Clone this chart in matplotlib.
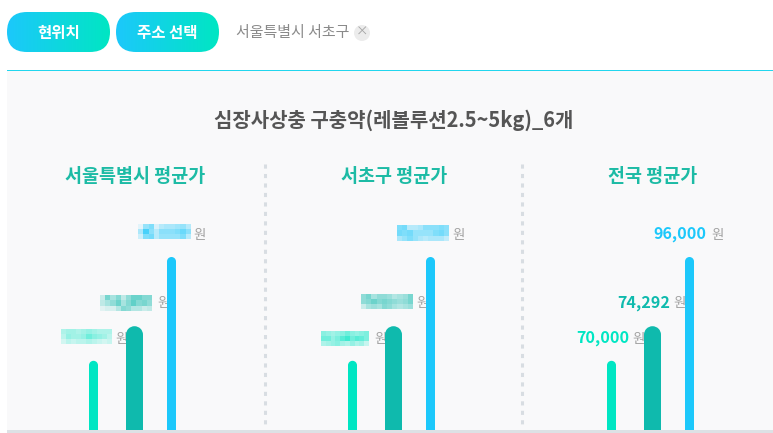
import numpy as np
import matplotlib
matplotlib.use("Agg")
import matplotlib.pyplot as plt
from matplotlib.patches import Ellipse, FancyBboxPatch, Rectangle, Circle

plt.rcParams['font.family'] = ['Noto Sans CJK KR', 'DejaVu Sans']

# bars are drawn at 40/60/100 percent of the tallest one in every panel
panel_titles = ["서울특별시 평균가", "서초구 평균가", "전국 평균가"]
bar_percent = [40, 60, 100]
national_labels = ["70,000", "74,292", "96,000"]
unit = "원"

# pixelated (hidden) prices: opacity of each block
seoul_mint = [[.30, .35, .35, .30, .35, .40, .35, .30, .30, .30],
              [.25, .40, .35, .35, .40, .55, .45, .40, .35, .25],
              [.15, .25, .20, .25, .25, .30, .25, .20, .15, .20]]
seoul_teal = [[.20, .55, .35, .50, .25, .45, .60, .60, .50, .50],
              [.25, .35, .45, .60, .35, .50, .65, .50, .55, .45],
              [.10, .15, .15, .30, .50, .45, .30, .30, .20, .25]]
seoul_cyan = [[.10, .45, .55, .15, .30, .35, .35, .40, .45, .30],
              [.35, .80, .50, .30, .50, .50, .50, .55, .65, .50],
              [.20, .55, .60, .30, .45, .45, .45, .45, .55, .30]]
seocho_mint = [[.45, .40, .35, .40, .45, .55, .45, .40, .45, .50],
               [.55, .55, .40, .50, .65, .75, .55, .65, .60, .50],
               [.30, .35, .40, .45, .35, .30, .40, .30, .35, .20]]
seocho_teal = [[.45, .55, .35, .45, .45, .40, .30, .35, .40, .55],
               [.45, .50, .60, .50, .55, .50, .45, .40, .45, .55],
               [.20, .35, .40, .35, .50, .45, .35, .30, .35, .40]]
seocho_cyan = [[.55, .60, .30, .30, .35, .50, .50, .50, .55, .50],
               [.60, .55, .60, .45, .45, .45, .45, .55, .60, .50],
               [.35, .45, .55, .45, .35, .30, .35, .35, .35, .25]]

mint = "#00e6c3"
teal = "#0fbaad"
cyan = "#1cc8fb"
bar_colors = [mint, teal, cyan]
bar_widths = [9, 17, 9]
bar_x = [93.5, 134.5, 171.5]
panel_left = [0, 259, 518]

fig = plt.figure(figsize=(7.73, 4.33), dpi=100, facecolor="white")
bg = fig.add_axes([0, 0, 1, 1])
bg.set_xlim(0, 773)
bg.set_ylim(433, 0)
bg.axis("off")


def gradient_button(x, y, w, h, label):
    grad = np.linspace(0, 1, 200).reshape(1, -1)
    c0 = np.array(matplotlib.colors.to_rgb(cyan))
    c1 = np.array(matplotlib.colors.to_rgb(mint))
    img = c0 + (c1 - c0) * grad[..., None]
    im = bg.imshow(img, extent=(x, x + w, y + h, y), aspect="auto", zorder=2)
    pad = h / 2
    box = FancyBboxPatch((x + pad, y + pad), w - 2 * pad, 0,
                         boxstyle="round,pad=%f" % pad, fc="none", ec="none",
                         transform=bg.transData)
    bg.add_patch(box)
    im.set_clip_path(box)
    bg.text(x + w / 2, y + h / 2 + 1, label, color="white", fontsize=11.2,
            fontweight="bold", ha="center", va="center", zorder=3)


def mosaic(grid, color, x0, x1, y0, y1):
    rgb = matplotlib.colors.to_rgb(color)
    a = np.array(grid)
    img = np.zeros(a.shape + (4,))
    img[..., :3] = rgb
    img[..., 3] = a
    bg.imshow(img, extent=(x0, x1, y1, y0), aspect="auto", interpolation="nearest", zorder=2)


gradient_button(7, 12, 103, 40, "현위치")
gradient_button(116, 12, 103, 40, "주소 선택")
bg.set_xlim(0, 773)
bg.set_ylim(433, 0)

bg.text(292.5, 33.5, "서울특별시 서초구", color="#8a8a8a", fontsize=10.8, ha="center", va="center")
bg.add_patch(Circle((362, 33), 8, fc="#ececec", ec="none"))
bg.text(362, 32.5, "×", color="#a5a5a5", fontsize=9, ha="center", va="center")

# panel background, top rule, bottom rule
bg.add_patch(Rectangle((7, 71), 766, 362, fc="#f9f9fa", ec="none", zorder=0))
bg.add_patch(Rectangle((7, 70), 766, 1, fc="#22d6ee", ec="none", zorder=1))
bg.add_patch(Rectangle((7, 430), 766, 3, fc="#dde1e5", ec="none", zorder=1))

bg.text(393.5, 120.5, "심장사상충 구충약(레볼루션2.5~5kg)_6개", color="#555555", fontsize=14.4,
        fontweight="bold", ha="center", va="center")

for x in [264.5, 522]:
    bg.plot([x, x], [164, 425], color="#d8dde2", lw=2.2, dashes=(1.35, 1.75), zorder=1)

for title, cx in zip(panel_titles, [135, 394, 653]):
    bg.text(cx, 176, title, color="#1dbba5", fontsize=13.3, fontweight="bold",
            ha="center", va="center")

# hidden prices
mosaic(seoul_cyan, cyan, 138, 191, 224, 239)
mosaic(seoul_teal, teal, 100, 152, 295, 311)
mosaic(seoul_mint, mint, 61, 112, 329, 344)
mosaic(seocho_cyan, cyan, 397, 449, 225, 241)
mosaic(seocho_teal, teal, 361, 413, 294, 309)
mosaic(seocho_mint, mint, 321, 369, 331, 346)
bg.set_xlim(0, 773)
bg.set_ylim(433, 0)

# unit labels sit next to the prices, behind the bars
unit_x = [[115.5, 157.5, 193.5], [374.5, 416.5, 452.5], [632.5, 673.5, 711.5]]
unit_y = [338.5, 303.5, 234.5]
for xs in unit_x:
    for x, y in zip(xs, unit_y):
        bg.text(x, y, unit, color="#a0a0a0", fontsize=9.6, ha="left", va="center", zorder=2)

# only the national prices are readable
for label, color, right, y in zip(national_labels, bar_colors, [629, 670, 706], unit_y):
    bg.text(right, y - 0.5, label, color=color, fontsize=11.6, fontweight="bold",
            ha="right", va="center", zorder=2)

# bars, axes height 173 px for 100 percent
scale = 100 / 173
for left in panel_left:
    ax = fig.add_axes([left / 773, (433 - 430) / 433, 200 / 773, 173 / 433])
    ax.patch.set_alpha(0)
    ax.axis("off")
    ax.set_xlim(left, left + 200)
    ax.set_ylim(0, 100)
    for pct, color, w, x in zip(bar_percent, bar_colors, bar_widths, bar_x):
        r = w / 2 * scale
        ax.bar(x + left, pct - r, width=w, color=color, linewidth=0)
        ax.add_patch(Ellipse((x + left, pct - r), w, 2 * r, fc=color, ec="none"))

fig.savefig("out.png", dpi=100)
